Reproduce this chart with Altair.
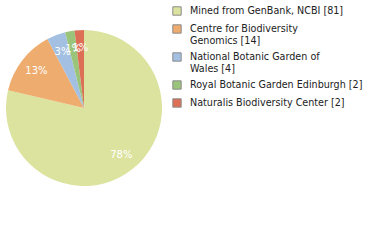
import altair as alt
import pandas as pd

sources = [
    "Mined from GenBank, NCBI",
    "Centre for Biodiversity\nGenomics",
    "National Botanic Garden of\nWales",
    "Royal Botanic Garden Edinburgh",
    "Naturalis Biodiversity Center",
]
counts = [81, 14, 4, 2, 2]
colors = ["#dce39f", "#eeac6f", "#a3bfe1", "#9bc47b", "#dd6f56"]

labels = [f"{s} [{c}]" for s, c in zip(sources, counts)]
df = pd.DataFrame({"label": labels, "count": counts, "order": list(range(len(sources)))})

base = alt.Chart(df).transform_joinaggregate(
    total="sum(count)"
).transform_calculate(
    pct="floor(datum.count / datum.total * 100) + '%'"
).encode(
    theta=alt.Theta("count:Q", stack=True),
    order=alt.Order("order:Q"),
)

pie = base.mark_arc(outerRadius=78).encode(
    color=alt.Color(
        "label:N",
        sort=labels,
        scale=alt.Scale(domain=labels, range=colors),
        legend=alt.Legend(
            title=None,
            orient="none",
            legendX=172,
            legendY=6,
            symbolType="square",
            symbolSize=70,
            symbolStrokeColor="#8a8a8a",
            symbolStrokeWidth=1,
            labelFont="DejaVu Sans",
            labelFontSize=9.6,
            labelColor="#222222",
            labelExpr="split(datum.label, '\\n')",
            labelLimit=300,
            rowPadding=4,
            labelOffset=8,
        ),
    )
)

text = base.mark_text(
    radius=60, color="white", font="DejaVu Sans", fontSize=10
).encode(text="pct:N")

chart = alt.layer(pie, text).properties(
    width=168,
    height=216,
    autosize="none",
    padding={"left": 0, "top": 0, "right": 212, "bottom": 24},
).configure_view(stroke=None)

chart.save("out.html", embed_options={"renderer": "svg", "actions": False})
